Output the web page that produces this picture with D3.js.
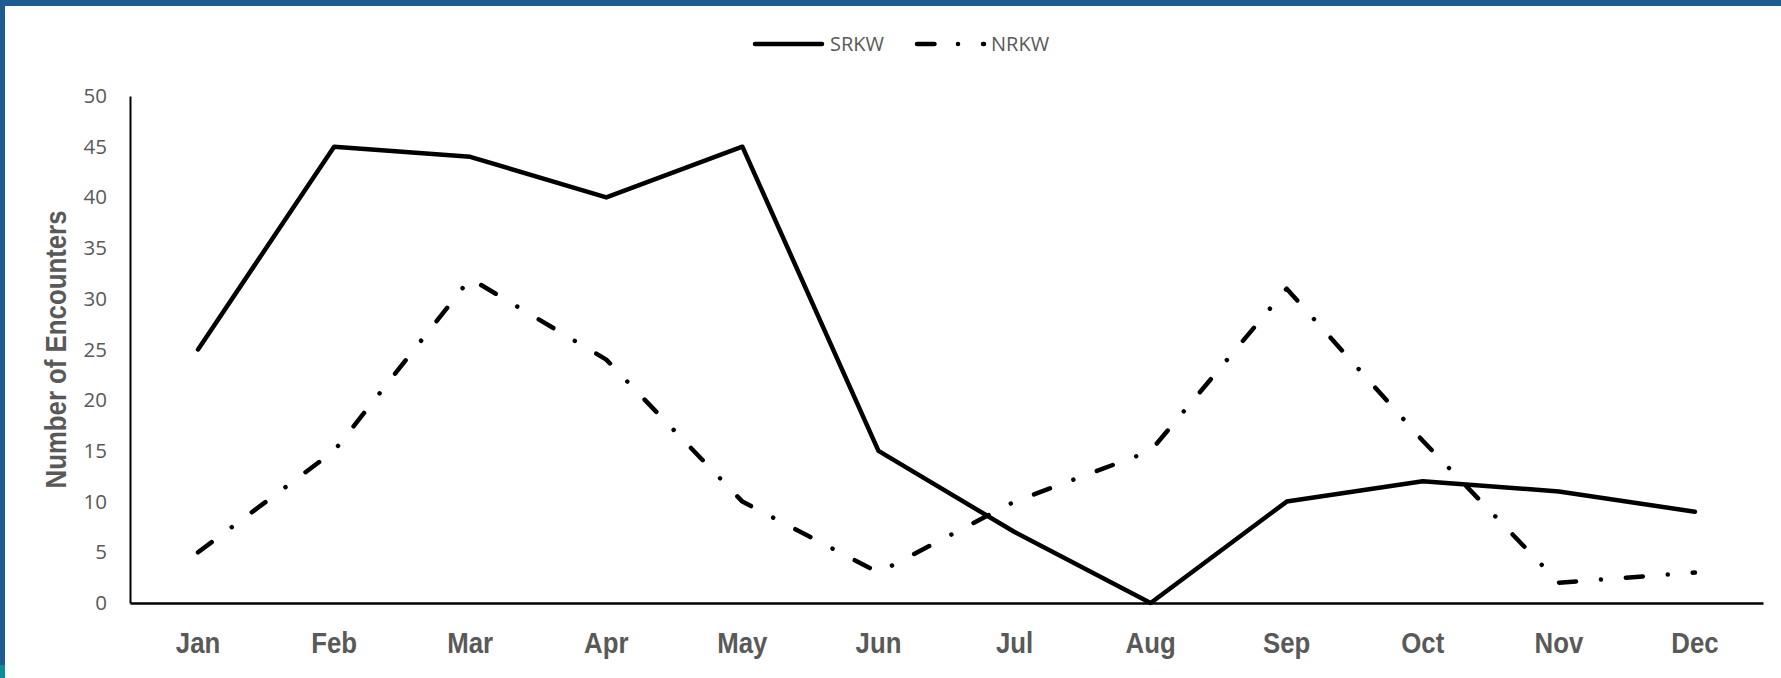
<!DOCTYPE html>
<html>
<head>
<meta charset="utf-8">
<script src="https://cdn.jsdelivr.net/npm/d3@7"></script>
<style>
  html, body { margin: 0; padding: 0; background: #ffffff; }
  svg { display: block; }
</style>
</head>
<body>
<svg id="chart" width="1781" height="678"></svg>
<script>
// Monthly killer whale encounters
const months = ["Jan", "Feb", "Mar", "Apr", "May", "Jun", "Jul", "Aug", "Sep", "Oct", "Nov", "Dec"];
const srkw = [25, 45, 44, 40, 45, 15, 7, 0, 10, 12, 11, 9];
const nrkw = [5, 15, 32, 24, 10, 3, 10, 15, 31, 16, 2, 3];
const yTicks = [0, 5, 10, 15, 20, 25, 30, 35, 40, 45, 50];
const seriesNames = ["SRKW", "NRKW"];

const svg = d3.select("#chart");
const W = 1781, H = 678;
const plot = { left: 130, right: 1763, top: 96, bottom: 603 };
const textGray = "#595959";
const dashDot = "17 25 0.01 25";
const narrowFont = "'Liberation Sans', Arial, sans-serif";
const narrow = 0.86; // condensed look for the bold labels

// frame bands
svg.append("rect").attr("x", 0).attr("y", 0).attr("width", W).attr("height", 6).attr("fill", "#1f5b8e");
svg.append("rect").attr("x", 0).attr("y", 0).attr("width", 5).attr("height", H).attr("fill", "#1f5b8e");
svg.append("rect").attr("x", 0).attr("y", 665).attr("width", 5).attr("height", H - 665).attr("fill", "#0e8c98");

const x = d3.scaleBand().domain(months).range([plot.left, plot.right]);
const cx = m => x(m) + x.bandwidth() / 2;
const y = d3.scaleLinear().domain([0, 50]).range([plot.bottom, plot.top]);

// y axis
const yAxis = svg.append("g")
  .attr("transform", `translate(${plot.left},0)`)
  .call(d3.axisLeft(y).tickValues(yTicks).tickSize(0).tickSizeOuter(0).tickPadding(23));
yAxis.select(".domain").attr("stroke", "#000").attr("stroke-width", 2);
yAxis.selectAll("text")
  .attr("fill", textGray)
  .style("font-family", "'Open Sans', 'Noto Sans', sans-serif")
  .style("font-size", "20.5px");

// x axis
const xAxis = svg.append("g")
  .attr("transform", `translate(0,${plot.bottom})`)
  .call(d3.axisBottom(x).tickSize(0).tickSizeOuter(0).tickPadding(0));
xAxis.select(".domain").attr("stroke", "#000").attr("stroke-width", 2.5);
xAxis.selectAll("text")
  .attr("x", 0)
  .attr("y", 50)
  .attr("dy", 0)
  .attr("transform", `scale(${narrow},1)`)
  .attr("fill", textGray)
  .style("font-family", narrowFont)
  .style("font-weight", "bold")
  .style("font-size", "30px");

// y axis title
svg.append("text")
  .attr("transform", `translate(66,${(plot.top + plot.bottom) / 2}) rotate(-90) scale(${narrow},1)`)
  .attr("text-anchor", "middle")
  .attr("fill", textGray)
  .style("font-family", narrowFont)
  .style("font-weight", "bold")
  .style("font-size", "30px")
  .text("Number of Encounters");

const line = d3.line().x((d, i) => cx(months[i])).y(d => y(d));

svg.append("path")
  .datum(srkw)
  .attr("d", line)
  .attr("fill", "none")
  .attr("stroke", "#000")
  .attr("stroke-width", 4.5)
  .attr("stroke-linejoin", "round")
  .attr("stroke-linecap", "round");

svg.append("path")
  .datum(nrkw)
  .attr("d", line)
  .attr("fill", "none")
  .attr("stroke", "#000")
  .attr("stroke-width", 4.5)
  .attr("stroke-linejoin", "round")
  .attr("stroke-linecap", "round")
  .attr("stroke-dasharray", dashDot);

// legend
const legend = svg.append("g");
const legendItems = [
  { name: seriesNames[0], x1: 755, x2: 822, tx: 830, dash: null },
  { name: seriesNames[1], x1: 917, x2: 984, tx: 991, dash: "17.5 23.5 0.01 25" }
];
legendItems.forEach(it => {
  legend.append("line")
    .attr("x1", it.x1).attr("x2", it.x2).attr("y1", 44).attr("y2", 44)
    .attr("stroke", "#000").attr("stroke-width", 4.5).attr("stroke-linecap", "round")
    .attr("stroke-dasharray", it.dash);
  legend.append("text")
    .attr("x", it.tx).attr("y", 51)
    .attr("fill", textGray)
    .style("font-family", "'Open Sans', 'Noto Sans', sans-serif")
    .style("font-size", "20px")
    .text(it.name);
});
</script>
</body>
</html>
